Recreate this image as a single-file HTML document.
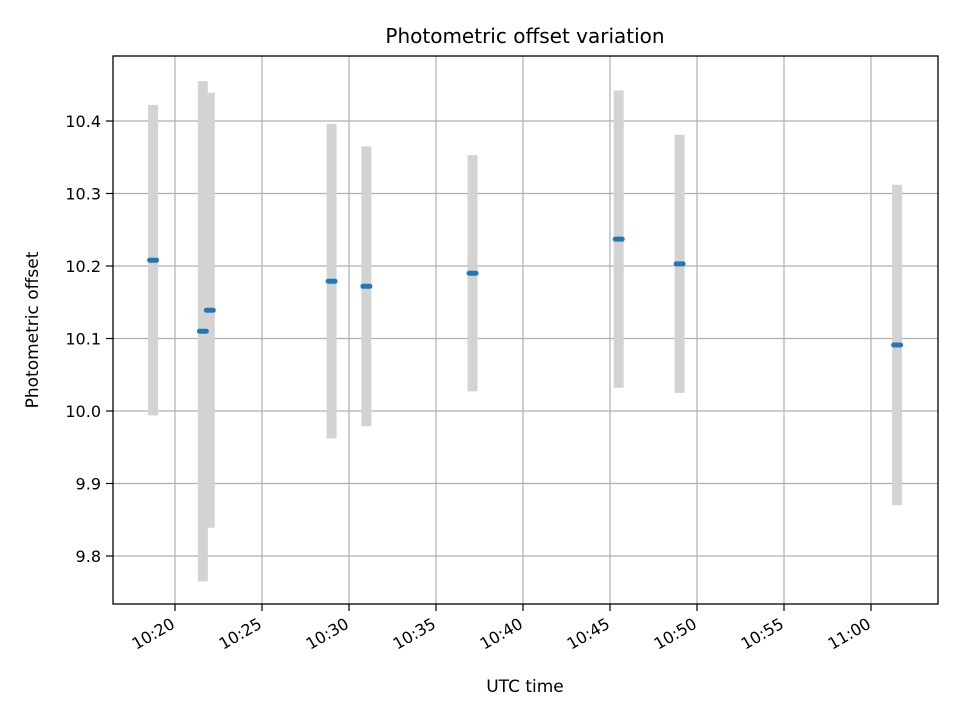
<!DOCTYPE html>
<html><head><meta charset="utf-8"><style>
body{margin:0;background:#fff}
svg{font-family:"DejaVu Sans","Liberation Sans",sans-serif}
</style></head><body>
<svg id="chart" width="960" height="720" viewBox="0 0 960 720">
<rect width="960" height="720" fill="#fff"/>
<text x="525" y="43" text-anchor="middle" font-size="20">Photometric offset variation</text>
<text x="525" y="692" text-anchor="middle" font-size="17">UTC time</text>
<text transform="translate(38,330) rotate(-90)" text-anchor="middle" font-size="17">Photometric offset</text>
<g id="grid"></g><g id="bars"></g><g id="pts"></g><g id="ticks"></g>
<rect x="113" y="56" width="825" height="548" fill="none" stroke="#000" stroke-width="1.3"/>
</svg>
<script>
// minutes after 10:00
const timeMinutes = [18.74, 21.6, 22.0, 29.0, 31.0, 37.1, 45.5, 49.0, 61.5];
const offsets = [10.208, 10.110, 10.139, 10.179, 10.172, 10.190, 10.237, 10.203, 10.091];
const errors = [0.214, 0.345, 0.30, 0.217, 0.193, 0.163, 0.205, 0.178, 0.221];
const xTickMinutes = [20, 25, 30, 35, 40, 45, 50, 55, 60];
const xTickLabels = ["10:20","10:25","10:30","10:35","10:40","10:45","10:50","10:55","11:00"];
const yTicks = [9.8, 9.9, 10.0, 10.1, 10.2, 10.3, 10.4];
const yTickLabels = ["9.8","9.9","10.0","10.1","10.2","10.3","10.4"];
const xHalf = 0.2;
const NS="http://www.w3.org/2000/svg";
const X = m => 175 + (m-20)*17.4;
const Y = v => 411 - (v-10.0)*725;
function mk(tag, attrs, parent){const e=document.createElementNS(NS,tag);for(const k in attrs)e.setAttribute(k,attrs[k]);document.getElementById(parent).appendChild(e);return e;}
xTickMinutes.forEach((m,i)=>{
  const g=mk('line',{x1:X(m),x2:X(m),y1:56,y2:604,stroke:'#b0b0b0','stroke-width':1.2},'grid');
  
  
  const t=mk('line',{x1:X(m),x2:X(m),y1:604,y2:611,stroke:'#000','stroke-width':1.2},'ticks');
  
  
  const l=mk('text',{transform:`translate(${X(m)+1},${627}) rotate(-30)`,'text-anchor':'end','font-size':16},'ticks');
  l.textContent=xTickLabels[i];
  
  
});
yTicks.forEach((v,i)=>{
  const g=mk('line',{x1:113,x2:938,y1:Y(v),y2:Y(v),stroke:'#b0b0b0','stroke-width':1.2},'grid');
  
  
  const t=mk('line',{x1:106,x2:113,y1:Y(v),y2:Y(v),stroke:'#000','stroke-width':1.2},'ticks');
  
  
  const l=mk('text',{x:101,y:Y(v)+6,'text-anchor':'end','font-size':16},'ticks');
  l.textContent=yTickLabels[i];
  
  
});
timeMinutes.forEach((m,i)=>{
  const b=mk('line',{x1:X(m),x2:X(m),y1:Y(offsets[i]+errors[i]),y2:Y(offsets[i]-errors[i]),stroke:'#d3d3d3','stroke-width':10},'bars');
  
  
  const p=mk('line',{x1:X(m-xHalf),x2:X(m+xHalf),y1:Y(offsets[i]),y2:Y(offsets[i]),stroke:'#1f77b4','stroke-width':5,'stroke-linecap':'round'},'pts');
  
  
});
</script>
</body></html>
